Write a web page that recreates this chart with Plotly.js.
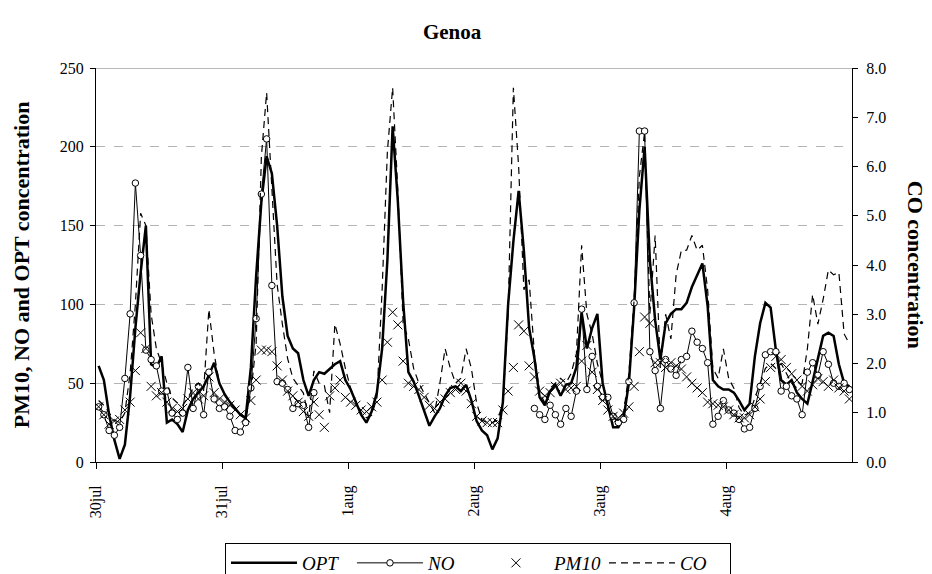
<!DOCTYPE html>
<html>
<head>
<meta charset="utf-8">
<script src="https://cdn.plot.ly/plotly-3.0.1.min.js"></script>
<style>html,body{margin:0;padding:0;background:#fff;}#chart{width:932px;height:574px;}</style>
</head>
<body>
<div id="chart"></div>
<script>
// hourly observations, 30 July 00:00 to 4 August 23:00
var dayLabels = ['30jul','31jul','1aug','2aug','3aug','4aug'];
var hoursPerDay = 24;

var OPT = [61,52,30,14,2,11,42,85,120,150,
  62,60,67,25,27,24,19,33,40,44,
  48,55,63,50,43,38,34,30,28,60,
  118,165,194,183,150,105,80,72,69,52,
  42,52,57,56,59,62,64,52,46,38,
  30,25,32,44,72,128,213,165,102,57,
  51,42,32,23,29,34,42,47,48,45,
  49,39,26,20,17,8,15,38,100,140,
  172,134,85,66,41,36,45,49,42,49,
  50,60,95,72,85,94,50,35,22,22,
  28,50,98,160,200,128,90,65,88,94,
  97,97,101,111,119,126,99,52,48,46,
  46,44,39,33,37,67,88,101,98,71,
  52,49,52,44,40,37,51,66,80,82,
  80,62,50,48];

var NO = [35,30,20,17,22,53,94,177,131,71,
  65,61,45,45,31,27,31,60,34,48,
  30,57,40,34,35,29,20,19,25,47,
  91,170,205,112,51,50,46,34,37,36,
  22,44,null,null,null,null,null,null,null,null,
  null,null,null,null,null,null,null,null,null,null,
  null,null,null,null,null,null,null,null,null,null,
  null,null,null,null,null,null,null,null,null,null,
  null,null,null,34,30,27,36,30,24,34,
  29,45,97,46,67,48,41,41,29,25,
  27,51,101,210,210,70,58,34,65,59,
  55,65,67,83,76,72,63,24,29,39,
  33,31,27,21,22,34,48,68,70,70,
  45,48,42,40,30,57,63,55,70,62,
  50,48,50,46];

var PM10 = [35,30,24,26,27,33,38,58,82,72,
  48,42,44,38,34,32,34,40,44,40,
  42,54,44,40,38,36,33,30,28,39,
  52,71,71,70,61,52,45,42,38,32,
  29,38,30,22,42,47,52,41,38,36,
  33,32,35,38,52,76,95,87,64,50,
  48,46,41,36,34,38,40,44,46,50,
  45,37,29,26,25,25,25,33,45,60,
  87,83,61,54,45,42,44,48,50,46,
  47,48,64,74,57,46,39,33,29,28,
  31,35,48,70,92,88,63,63,60,63,
  61,59,54,50,47,44,38,37,36,35,
  33,30,28,28,30,35,40,51,60,67,
  65,60,56,52,48,45,49,53,51,48,
  52,47,45,40];

var CO = [1.25,1.15,1.0,0.85,0.8,1.0,1.8,3.2,5.05,4.8,
  3.0,2.3,2.0,1.6,1.3,1.2,1.15,1.3,1.5,1.6,
  1.45,3.1,2.2,1.6,1.35,1.2,1.1,0.95,0.9,1.4,
  2.4,6.2,7.5,5.6,3.6,2.8,2.1,1.7,1.55,1.4,
  0.9,1.85,1.6,1.55,1.0,2.8,2.4,1.9,1.5,1.2,
  1.0,0.9,0.95,1.3,3.5,6.3,7.6,5.5,2.8,2.5,
  1.9,1.6,1.4,1.2,1.0,1.6,2.3,1.9,1.6,1.7,
  2.3,1.9,1.2,0.85,0.8,0.8,0.85,1.2,3.0,7.6,
  6.0,3.5,3.7,2.2,1.4,1.2,1.5,1.6,1.7,1.6,
  1.8,2.2,4.4,3.0,2.6,2.0,1.6,1.1,0.9,0.85,
  1.0,1.8,3.3,5.8,6.7,3.0,4.6,1.9,3.0,2.5,
  3.8,4.3,4.3,4.6,4.3,4.4,3.5,1.9,1.7,2.3,
  1.7,1.5,1.1,0.95,1.0,1.3,1.6,1.9,2.0,1.9,
  2.0,1.8,1.6,1.5,1.6,2.3,3.4,2.8,3.3,3.9,
  3.8,3.85,2.6,2.4];

var hours = OPT.map(function(_, i){ return i; });
var tickVals = dayLabels.map(function(_, k){ return k * hoursPerDay - 0.5; });

var serif = 'Liberation Serif, Times New Roman, serif';

var traces = [
  {x: hours, y: OPT, name: 'OPT', type: 'scatter', mode: 'lines',
   line: {color: '#000', width: 2.5}},
  {x: hours, y: NO, name: 'NO', type: 'scatter', mode: 'lines+markers',
   line: {color: '#000', width: 1},
   marker: {symbol: 'circle', size: 6.5, color: '#fff', line: {color: '#000', width: 1}}},
  {x: hours, y: PM10, name: 'PM10', type: 'scatter', mode: 'markers',
   marker: {symbol: 'x-thin-open', size: 9, color: '#000', line: {color: '#000', width: 1}}},
  {x: hours, y: CO, name: 'CO', type: 'scatter', mode: 'lines', yaxis: 'y2',
   line: {color: '#000', width: 1.2, dash: '7px,5px'}}
];

var layout = {
  width: 932, height: 574,
  margin: {l: 96, r: 80, t: 68, b: 112, autoexpand: false},
  paper_bgcolor: '#fff', plot_bgcolor: '#fff',
  font: {family: serif, size: 16, color: '#000'},
  showlegend: true,
  title: {text: '<b>Genoa</b>', font: {family: serif, size: 21, color: '#000'},
          x: 0.471, xref: 'paper', xanchor: 'center', y: 0.944, yref: 'container', yanchor: 'middle'},
  xaxis: {range: [-0.5, OPT.length - 0.5], tickmode: 'array', tickvals: tickVals, ticktext: dayLabels,
          tickangle: -90, ticks: 'outside', ticklen: 6, tickcolor: '#000', showline: true, linecolor: '#000',
          linewidth: 1, showgrid: false, zeroline: false, ticklabelstandoff: 10, automargin: false,
          tickfont: {family: serif, size: 16}},
  yaxis: {range: [0, 250], dtick: 50, tick0: 0, ticks: 'outside', ticklen: 5, tickcolor: '#000',
          showline: true, linecolor: '#000', linewidth: 1, showgrid: true, gridcolor: '#b4b4b4',
          griddash: 'dash', gridwidth: 1, zeroline: false, ticklabelstandoff: 3, automargin: false,
          tickfont: {family: serif, size: 16}},
  yaxis2: {range: [0, 8], dtick: 1, tick0: 0, overlaying: 'y', side: 'right', tickformat: '.1f',
           ticks: 'outside', ticklen: 5, tickcolor: '#000', showline: true, linecolor: '#000', linewidth: 1,
           showgrid: false, zeroline: false, ticklabelstandoff: 5, automargin: false,
           tickfont: {family: serif, size: 16}},
  shapes: [{type: 'line', xref: 'paper', yref: 'y', x0: 0, x1: 1, y0: 250, y1: 250,
            line: {color: '#a0a0a0', width: 1.5}}],
  annotations: [
    {text: '<b>PM10, NO and OPT concentration</b>', xref: 'paper', yref: 'paper', x: -0.099, y: 0.5,
     xanchor: 'center', yanchor: 'middle', textangle: -90, showarrow: false, font: {family: serif, size: 22}},
    {text: '<b>CO concentration</b>', xref: 'paper', yref: 'paper', x: 1.085, y: 0.5,
     xanchor: 'center', yanchor: 'middle', textangle: 90, showarrow: false, font: {family: serif, size: 22}}
  ],
  legend: {orientation: 'h', x: 0.1706, xanchor: 'left', y: -0.2056, yanchor: 'top',
           bordercolor: '#000', borderwidth: 1, bgcolor: '#fff', entrywidth: 45, itemwidth: 66,
           font: {family: serif, size: 19, style: 'italic'}}
};

Plotly.newPlot('chart', traces, layout, {staticPlot: true, displayModeBar: false});
</script>
</body>
</html>
